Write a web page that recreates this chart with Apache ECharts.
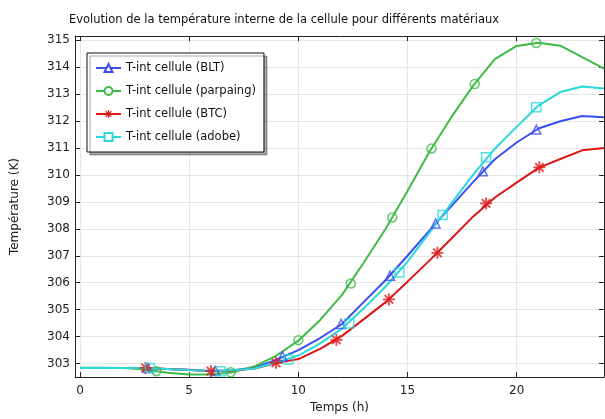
<!DOCTYPE html>
<html>
<head>
<meta charset="utf-8">
<script src="https://cdn.jsdelivr.net/npm/echarts@6/dist/echarts.min.js"></script>
<style>html,body{margin:0;padding:0;background:#fff;}#c{width:605px;height:419px;}</style>
</head>
<body>
<div id="c"></div>
<script>
const hours = [0,1,2,3,4,5,6,7,8,9,10,11,12,13,14,15,16,17,18,19,20,21,22,23,24];
const seriesNames = ['T-int cellule (BLT)','T-int cellule (parpaing)','T-int cellule (BTC)','T-int cellule (adobe)'];
const tempBLT = [302.84,302.84,302.84,302.84,302.80,302.77,302.73,302.75,302.85,303.15,303.50,303.95,304.47,305.29,306.10,307.00,307.93,308.83,309.73,310.58,311.20,311.72,311.99,312.18,312.14];
const tempParpaing = [302.85,302.85,302.84,302.78,302.66,302.60,302.60,302.68,302.90,303.30,303.85,304.62,305.55,306.75,308.00,309.40,310.85,312.13,313.30,314.29,314.78,314.90,314.79,314.37,313.94];
const tempBTC = [302.84,302.84,302.84,302.84,302.80,302.76,302.72,302.74,302.82,303.02,303.17,303.55,304.03,304.65,305.28,306.04,306.82,307.63,308.45,309.16,309.71,310.26,310.59,310.91,311.00];
const tempAdobe = [302.84,302.84,302.84,302.84,302.80,302.76,302.73,302.75,302.82,303.05,303.30,303.75,304.30,305.05,305.86,306.78,307.85,308.93,310.00,310.97,311.78,312.57,313.07,313.28,313.20];
// marker positions
const markBLT_t = [3.1,6.2,9.27,11.96,14.2,16.29,18.45,20.9];
const markBLT_v = [302.84,302.73,303.27,304.47,306.26,308.2,310.13,311.68];
const markParpaing_t = [3.5,6.9,10.0,12.4,14.3,16.1,18.08,20.9];
const markParpaing_v = [302.72,302.68,303.87,305.97,308.42,310.98,313.37,314.89];
const markBTC_t = [3.0,6.0,8.98,11.74,14.15,16.37,18.6,21.04];
const markBTC_v = [302.84,302.72,303.03,303.88,305.38,307.11,308.94,310.28];
const markAdobe_t = [3.2,6.44,9.54,12.33,14.63,16.61,18.6,20.9];
const markAdobe_v = [302.84,302.72,303.15,304.49,306.38,308.51,310.65,312.51];
const xTicks = [0,5,10,15,20];
const yTicks = [303,304,305,306,307,308,309,310,311,312,313,314,315];

const star = 'path://M-1.5,-10L1.5,-10L1.5,10L-1.5,10Z M10,-1.5L10,1.5L-10,1.5L-10,-1.5Z M5.97,-8.13L8.13,-5.97L-5.97,8.13L-8.13,5.97Z M8.13,5.97L5.97,8.13L-8.13,-5.97L-5.97,-8.13Z';

const colors = ['#3b4ef2','#3dbb45','#dd1616','#2ad8dc'];
const lineData = [tempBLT, tempParpaing, tempBTC, tempAdobe];
const markT = [markBLT_t, markParpaing_t, markBTC_t, markAdobe_t];
const markV = [markBLT_v, markParpaing_v, markBTC_v, markAdobe_v];
const symbols = ['emptyTriangle','emptyCircle',star,'emptyRect'];
const scatterSymbols = ['triangle','circle',star,'rect'];

const zip = (a,b) => a.map((v,i)=>[v,b[i]]);
const series = [];
for (let i=0;i<4;i++){
  series.push({
    name: seriesNames[i], type:'line', data: zip(hours, lineData[i]),
    showSymbol:false, symbol: symbols[i], symbolSize: 10,
    lineStyle:{color:colors[i], width:2}, itemStyle:{color:colors[i]},
    emphasis:{disabled:true}, z: 2+i, animation:false
  });
}
for (let i=0;i<4;i++){
  const isStar = i===2;
  series.push({
    name: seriesNames[i], type:'scatter', data: zip(markT[i], markV[i]),
    symbol: scatterSymbols[i], symbolSize: isStar ? 12 : 9,
    itemStyle: isStar ? {color:colors[i]} : {color:'rgba(0,0,0,0)', borderColor:colors[i], borderWidth:1.5},
    emphasis:{disabled:true}, z: 10, animation:false
  });
}

const axisFont = {fontFamily:'DejaVu Sans', fontSize:12, color:'#222'};
const chart = echarts.init(document.getElementById('c'), null, {renderer:'canvas'});
chart.setOption({
  animation:false,
  backgroundColor:'#fff',
  title:{text:'Evolution de la température interne de la cellule pour différents matériaux', left:64, top:9,
    textStyle:{fontFamily:'DejaVu Sans', fontSize:11.5, fontWeight:'normal', color:'#111'}},
  legend:{orient:'vertical', left:87, top:53, padding:[9,8,9,8], itemGap:11, itemWidth:25, itemHeight:10,
    data: seriesNames,
    backgroundColor:'#fff', borderColor:'#111', borderWidth:1,
    shadowColor:'rgba(0,0,0,0.35)', shadowOffsetX:3, shadowOffsetY:3, shadowBlur:0,
    textStyle:{fontFamily:'DejaVu Sans', fontSize:11.5, color:'#111'}},
  grid:{left:75, right:1, top:36, bottom:36},
  xAxis:[{type:'value', min:-0.23, max:24, position:'bottom',
      name:'Temps (h)', nameLocation:'middle', nameGap:23, nameTextStyle:axisFont,
      axisLine:{show:true, onZero:false, lineStyle:{color:'#222', width:1}},
      axisTick:{show:true, inside:true, length:5, customValues:xTicks, lineStyle:{color:'#222'}},
      axisLabel:{customValues:xTicks, margin:8, ...axisFont},
      splitLine:{show:true, lineStyle:{color:'#e6e6e6', width:1}}},
    {type:'value', min:-0.23, max:24, position:'top',
      axisLine:{show:true, onZero:false, lineStyle:{color:'#222', width:1}},
      axisTick:{show:true, inside:true, length:5, customValues:xTicks, lineStyle:{color:'#222'}},
      axisLabel:{show:false}, splitLine:{show:false}}],
  yAxis:[{type:'value', min:302.5, max:315.15, position:'left',
      name:'Température (K)', nameLocation:'middle', nameGap:54, nameRotate:90, nameTextStyle:axisFont,
      axisLine:{show:true, onZero:false, lineStyle:{color:'#222', width:1}},
      axisTick:{show:true, inside:true, length:5, customValues:yTicks, lineStyle:{color:'#222'}},
      axisLabel:{customValues:yTicks, margin:5, ...axisFont},
      splitLine:{show:true, lineStyle:{color:'#e6e6e6', width:1}}},
    {type:'value', min:302.5, max:315.15, position:'right',
      axisLine:{show:true, onZero:false, lineStyle:{color:'#222', width:1}},
      axisTick:{show:true, inside:true, length:5, customValues:yTicks, lineStyle:{color:'#222'}},
      axisLabel:{show:false}, splitLine:{show:false}}],
  series: series
});
</script>
</body>
</html>
